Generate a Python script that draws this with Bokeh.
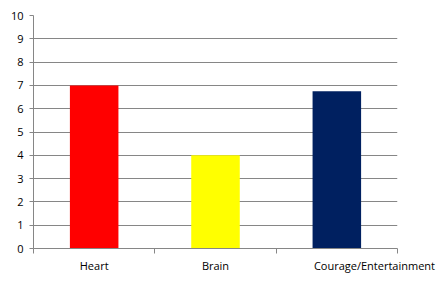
from bokeh.plotting import figure
from bokeh.models import FixedTicker, ColumnDataSource, Range1d
from bokeh.embed import file_html
from bokeh.resources import INLINE

categories = ["Heart", "Brain", "Courage/Entertainment"]
values = [7, 4, 6.75]
colors = ["#FF0000", "#FFFF00", "#002060"]
y_ticks = list(range(0, 11))

n = len(categories)
xs = [i + 0.5 for i in range(n)]
label_x = list(xs)
label_x[-1] += 0.31  # Excel-style overflow placement of the long last label

src = ColumnDataSource(dict(x=xs, top=values, color=colors))

p = figure(width=444, height=291, output_backend="svg", toolbar_location=None,
           x_range=Range1d(0, n), y_range=Range1d(0, 10),
           min_border_left=33, min_border_right=47, min_border_top=15, min_border_bottom=43)
p.outline_line_color = None
p.background_fill_color = "white"
p.border_fill_color = "white"

p.vbar(x="x", top="top", bottom=0, width=0.4, color="color", line_color=None, source=src)

grey = "#868686"
font = "Open Sans"

p.yaxis.ticker = FixedTicker(ticks=y_ticks)
p.yaxis.axis_line_color = grey
p.yaxis.major_tick_line_color = grey
p.yaxis.major_tick_out = 4
p.yaxis.major_tick_in = 0
p.yaxis.minor_tick_line_color = None
p.yaxis.major_label_standoff = 6
p.yaxis.major_label_text_font = font
p.yaxis.major_label_text_font_size = "11px"
p.yaxis.major_label_text_color = "#000000"

p.xaxis.ticker = FixedTicker(ticks=label_x, minor_ticks=list(range(n + 1)))
p.xaxis.major_label_overrides = {x: c for x, c in zip(label_x, categories)}
p.xaxis.axis_line_color = grey
p.xaxis.major_tick_line_color = None
p.xaxis.minor_tick_line_color = grey
p.xaxis.minor_tick_out = 5
p.xaxis.minor_tick_in = 0
p.xaxis.major_label_standoff = 3
p.xaxis.major_label_text_font = font
p.xaxis.major_label_text_font_size = "11px"
p.xaxis.major_label_text_color = "#000000"

p.xgrid.grid_line_color = None
p.ygrid.ticker = FixedTicker(ticks=y_ticks)
p.ygrid.grid_line_color = grey
p.ygrid.grid_line_width = 1

open("out.html", "w").write(file_html(p, INLINE))
